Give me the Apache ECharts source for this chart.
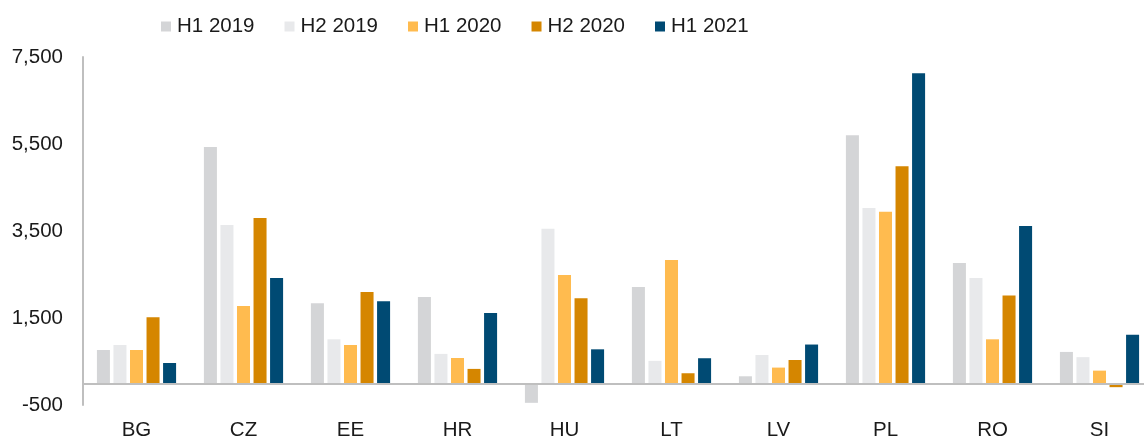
<!DOCTYPE html>
<html>
<head>
    <meta charset="utf-8">
    <title>H1/H2 chart</title>
    <script src="https://cdn.jsdelivr.net/npm/echarts@6/dist/echarts.min.js"></script>
</head>
<body style="margin:0">
    <div id="main" style="width:1144px;height:439px;"></div>
    <script type="text/javascript">
        // data
        var countries = ['BG', 'CZ', 'EE', 'HR', 'HU', 'LT', 'LV', 'PL', 'RO', 'SI'];
        var h1_2019 = [765, 5430, 1840, 1985, -450, 2215, 160, 5700, 2765, 720];
        var h2_2019 = [880, 3640, 1010, 675, 3550, 515, 650, 4030, 2420, 600];
        var h1_2020 = [765, 1775, 880, 580, 2490, 2835, 360, 3940, 1010, 290];
        var h2_2020 = [1515, 3800, 2100, 330, 1955, 230, 535, 4990, 2015, -90];
        var h1_2021 = [465, 2420, 1885, 1615, 780, 575, 890, 7125, 3615, 1115];

        var seriesNames = ['H1 2019', 'H2 2019', 'H1 2020', 'H2 2020', 'H1 2021'];
        var seriesData = [h1_2019, h2_2019, h1_2020, h2_2020, h1_2021];
        var colors = ['#d4d5d7', '#e8e9eb', '#ffbb4f', '#d58600', '#004a73'];

        var font = 'Liberation Sans, Arial, sans-serif';

        var series = seriesData.map(function (d, i) {
            var s = {
                name: seriesNames[i],
                type: 'bar',
                data: d,
                barGap: '27%',
                barCategoryGap: '26%',
                itemStyle: {color: colors[i]}
            };
            if (i === 0) {
                // zero line
                s.markLine = {
                    silent: true,
                    symbol: ['none', 'none'],
                    label: {show: false},
                    lineStyle: {color: '#bfbfbf', width: 2, type: 'solid'},
                    data: [{yAxis: 0}]
                };
            }
            return s;
        });

        var chart = echarts.init(document.getElementById('main'));
        chart.setOption({
            animation: false,
            color: colors,
            legend: {
                left: 161,
                top: 16,
                padding: 0,
                itemWidth: 10,
                itemHeight: 10,
                itemGap: 30,
                icon: 'rect',
                textStyle: {fontFamily: font, fontSize: 20.5, color: '#1a1a1a', padding: [0, 0, 0, 1]},
                data: seriesNames
            },
            grid: {left: 83, right: -9, top: 57, bottom: 34, containLabel: false, outerBoundsMode: 'none'},
            xAxis: {
                type: 'category',
                data: countries,
                axisLine: {show: false, onZero: false},
                axisTick: {show: false},
                axisLabel: {fontFamily: font, fontSize: 20.5, color: '#1a1a1a', margin: 15}
            },
            yAxis: {
                type: 'value',
                min: -500,
                max: 7500,
                interval: 2000,
                splitLine: {show: false},
                axisTick: {show: false},
                axisLine: {show: true, lineStyle: {color: '#bfbfbf', width: 2}},
                axisLabel: {
                    fontFamily: font, fontSize: 20.5, color: '#1a1a1a', margin: 20,
                    formatter: function (v) { return v.toLocaleString('en-US'); }
                }
            },
            series: series
        });
    </script>
</body>
</html>
